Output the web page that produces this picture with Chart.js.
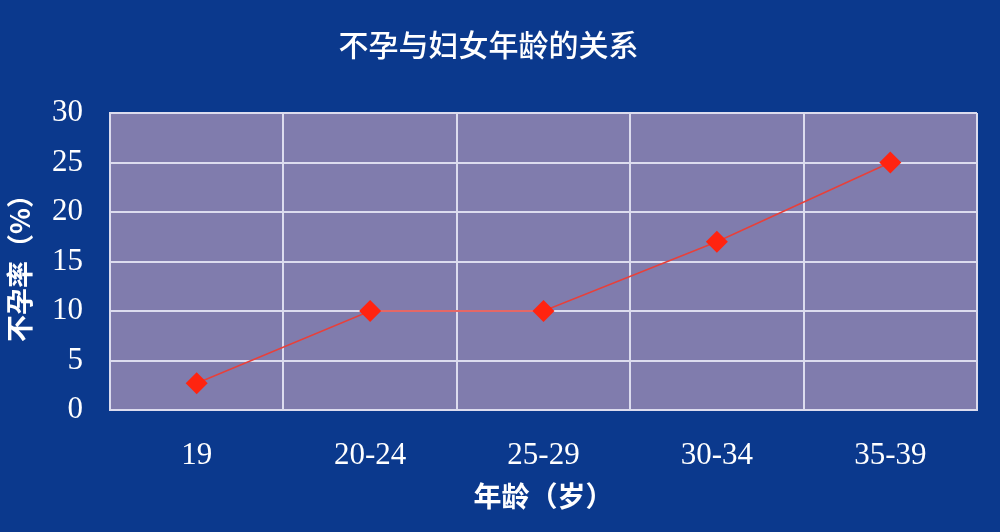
<!DOCTYPE html>
<html>
<head>
<meta charset="utf-8">
<script src="https://cdn.jsdelivr.net/npm/chart.js@4/dist/chart.umd.min.js"></script>
<style>
  html, body { margin: 0; padding: 0; background: #0b398d; }
  #wrap { width: 1000px; height: 532px; }
</style>
</head>
<body>
<div id="wrap"><canvas id="ageChart" width="1000" height="532"></canvas></div>
<script>
// Data
const ageGroups = ['19', '20-24', '25-29', '30-34', '35-39'];
const infertilityRate = [2.7, 10, 10, 17, 25];
const yTicks = [0, 5, 10, 15, 20, 25, 30];

const titleText = '不孕与妇女年龄的关系';
const xTitle = '年龄（岁）';
const yTitle = '不孕率（%）';

const bgBlue = '#0b398d';
const plotFill = '#807cad';
const gridColor = '#dcdcee';

// paints page background and the plot area
const backdrop = {
  id: 'backdrop',
  beforeDraw(chart) {
    const { ctx, chartArea: a } = chart;
    ctx.save();
    ctx.fillStyle = bgBlue;
    ctx.fillRect(0, 0, chart.width, chart.height);
    ctx.fillStyle = plotFill;
    ctx.fillRect(a.left, a.top, a.right - a.left, a.bottom - a.top);
    ctx.restore();
  },
};

const ctx = document.getElementById('ageChart').getContext('2d');
new Chart(ctx, {
  type: 'line',
  data: {
    labels: ageGroups,
    datasets: [
      {
        data: infertilityRate,
        borderColor: '#e8403a',
        borderWidth: 1.5,
        tension: 0,
        pointStyle: 'rectRot',
        pointRadius: 11,
        pointBackgroundColor: '#ff2410',
        pointBorderColor: '#ff2410',
        pointBorderWidth: 0,
        fill: false,
      },
    ],
  },
  options: {
    responsive: false,
    animation: false,
    devicePixelRatio: 1,
    layout: { padding: { left: 0, right: 23, top: 0, bottom: 0 } },
    plugins: {
      legend: { display: false },
      tooltip: { enabled: false },
      title: {
        display: true,
        text: titleText,
        color: '#ffffff',
        font: { family: '"Noto Sans CJK SC", sans-serif', size: 30, weight: 500 },
        padding: { top: 27, bottom: 50 },
      },
    },
    scales: {
      x: {
        type: 'category',
        offset: true,
        afterFit: scale => { scale.height = 122; },
        grid: { offset: true, color: gridColor, lineWidth: 2, drawTicks: false },
        border: { display: true, color: gridColor, width: 2 },
        ticks: {
          color: '#ffffff',
          padding: 27,
          font: { family: '"Liberation Serif", serif', size: 31, weight: 'normal' },
        },
        title: {
          display: true,
          text: xTitle,
          color: '#ffffff',
          font: { family: '"Noto Sans CJK SC", sans-serif', size: 28, weight: 'bold' },
          padding: { top: 0, bottom: 19 },
        },
      },
      y: {
        min: 0,
        max: 30,
        afterFit: scale => { scale.width = 110; },
        afterBuildTicks: scale => { scale.ticks = yTicks.map(v => ({ value: v })); },
        grid: { color: gridColor, lineWidth: 2, drawTicks: false },
        border: { display: true, color: gridColor, width: 2 },
        ticks: {
          color: '#ffffff',
          padding: 27,
          font: { family: '"Liberation Serif", serif', size: 31, weight: 'normal' },
        },
        title: {
          display: true,
          text: yTitle,
          color: '#ffffff',
          font: { family: '"Noto Sans CJK SC", sans-serif', size: 27, weight: 'bold' },
          padding: { top: 4, bottom: 0 },
        },
      },
    },
  },
  plugins: [backdrop],
});
</script>
</body>
</html>
